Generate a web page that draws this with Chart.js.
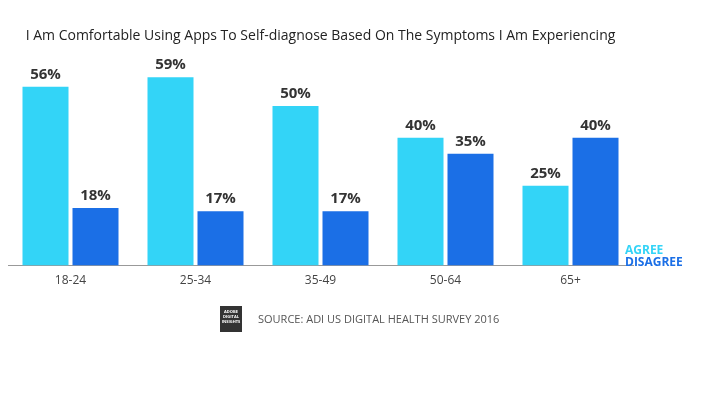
<!DOCTYPE html>
<html>
<head>
<meta charset="utf-8">
<script src="https://cdn.jsdelivr.net/npm/chart.js@4"></script>
<style>
  body { margin: 0; background: #fff; }
  #wrap { width: 712px; height: 400px; }
</style>
</head>
<body>
<div id="wrap"><canvas id="myChart" width="712" height="400"></canvas></div>
<script>
const chartTitle = 'I Am Comfortable Using Apps To Self-diagnose Based On The Symptoms I Am Experiencing';
const ageGroups = ['18-24', '25-34', '35-49', '50-64', '65+'];
const agreeValues = [56, 59, 50, 40, 25];
const disagreeValues = [18, 17, 17, 35, 40];
const sourceText = 'SOURCE: ADI US DIGITAL HEALTH SURVEY 2016';

const agreeColor = '#33d4f7';
const disagreeColor = '#1b6fe6';

// labels, legend and source line
const extras = {
    id: 'extras',
    afterDatasetsDraw(chart) {
        const c = chart.ctx;
        c.save();
        c.font = 'bold 15px "Open Sans"';
        c.fillStyle = '#333';
        c.textAlign = 'center';
        c.textBaseline = 'bottom';
        chart.data.datasets.forEach((ds, i) => {
            chart.getDatasetMeta(i).data.forEach((bar, j) => {
                c.fillText(ds.data[j] + '%', bar.x, bar.y - 5);
            });
        });
        const area = chart.chartArea;
        c.font = 'bold 12px "Open Sans"';
        c.textAlign = 'left';
        c.textBaseline = 'middle';
        c.fillStyle = agreeColor;
        c.fillText('AGREE', area.right - 8, 251);
        c.fillStyle = disagreeColor;
        c.fillText('DISAGREE', area.right - 8, 263);

        // small logo box + source
        c.fillStyle = '#333';
        c.fillRect(220, 306, 22, 26);
        c.fillStyle = '#fff';
        c.font = 'bold 4px "Open Sans"';
        c.textAlign = 'center';
        c.fillText('ADOBE', 231, 312);
        c.fillText('DIGITAL', 231, 317);
        c.fillText('INSIGHTS', 231, 322);
        c.fillStyle = '#555';
        c.font = '11px "Open Sans"';
        c.textAlign = 'left';
        c.fillText(sourceText, 258, 320);
        c.restore();
    }
};

new Chart(document.getElementById('myChart').getContext('2d'), {
    type: 'bar',
    data: {
        labels: ageGroups,
        datasets: [
            { label: 'Agree', data: agreeValues, backgroundColor: agreeColor },
            { label: 'Disagree', data: disagreeValues, backgroundColor: disagreeColor }
        ]
    },
    options: {
        responsive: false,
        animation: false,
        layout: { padding: { left: 8, right: 79, top: 0, bottom: 104 } },
        categoryPercentage: 0.8,
        barPercentage: 0.92,
        plugins: {
            legend: { display: false },
            tooltip: { enabled: false },
            title: {
                display: true,
                text: chartTitle,
                color: '#222',
                font: { family: '"Open Sans"', size: 14, weight: 'normal' },
                padding: { top: 28, bottom: 10 }
            }
        },
        scales: {
            x: {
                grid: { display: false, drawTicks: false },
                border: { display: true, color: '#999', width: 1 },
                ticks: { color: '#444', font: { family: '"Open Sans"', size: 12 }, padding: 8 }
            },
            y: { display: false, min: 0, max: 66 }
        }
    },
    plugins: [extras]
});
</script>
</body>
</html>
